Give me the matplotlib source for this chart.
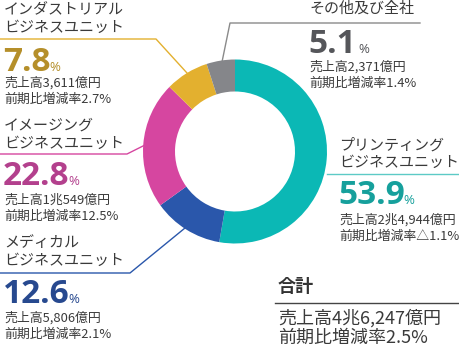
import matplotlib.pyplot as plt

# segment data (share of sales, FY)
segments = ['プリンティング', 'メディカル', 'イメージング', 'インダストリアル', 'その他及び全社']
shares = [53.9, 12.6, 22.8, 7.8, 5.1]
sales = ['2兆4,944', '5,806', '1兆549', '3,611', '2,371']
growth = ['△1.1', '2.1', '12.5', '2.7', '1.4']
ring_colors = ['#0bb8b5', '#2a57ab', '#d646a0', '#e3b02f', '#85868a']
text_colors = ['#16a09c', '#27498f', '#b3408d', '#b58f2a', '#55565a']
total_sales = '4兆6,247'
total_growth = '2.5'

W, H = 460, 349
jp = ['Noto Sans CJK JP', 'DejaVu Sans']
dark = '#3a3a3a'

fig = plt.figure(figsize=(W / 100, H / 100), dpi=100)
ax = fig.add_axes([0, 0, 1, 1])
ax.set_xlim(0, W)
ax.set_ylim(H, 0)
ax.axis('off')

# donut in its own axes
cx, cy, R = 235, 151.5, 92
axp = fig.add_axes([(cx - R) / W, 1 - (cy + R) / H, 2 * R / W, 2 * R / H])
axp.pie(shares, colors=ring_colors, startangle=90, counterclock=False,
        wedgeprops=dict(width=32 / R, linewidth=0))
axp.set_xlim(-1, 1)
axp.set_ylim(-1, 1)
axp.set_aspect('equal')
axp.axis('off')

renderer = fig.canvas.get_renderer()


def label(i, x, ty, by, sy, pct_gap=-1):
    col = text_colors[i]
    name = segments[i]
    lines = [name] if i == 4 else [name, 'ビジネスユニット']
    for k, t in enumerate(lines):
        ax.text(x, ty + k * 18, t, fontsize=10.8, family=jp, color=dark,
                va='center', ha='left')
    num = ax.text(x - 1, by, f'{shares[i]}', fontsize=24, fontweight='bold',
                  family='Open Sans', color=col, va='baseline', ha='left')
    w = num.get_window_extent(renderer).width
    ax.text(x - 1 + w + pct_gap, by, '%', fontsize=9.5, family='Open Sans',
            color=col, va='baseline', ha='left')
    ax.text(x, sy, f'売上高{sales[i]}億円', fontsize=9.3, family=jp,
            color=dark, va='center', ha='left')
    ax.text(x, sy + 16.5, f'前期比増減率{growth[i]}%', fontsize=9.3, family=jp,
            color=dark, va='center', ha='left')


# leader lines
ax.plot([0, 156, 187], [39, 39, 73], color=ring_colors[3], lw=1)
ax.plot([420, 230, 222], [23, 23, 62], color='#8a8a8a', lw=1)
ax.plot([0, 127, 145], [154, 154, 145], color=ring_colors[2], lw=1)
ax.plot([0, 130, 185], [273, 273, 228], color=ring_colors[1], lw=1)
ax.plot([327, W], [174, 174], color='#5ccac6', lw=1)
ax.plot([275, W], [303, 303], color='#444444', lw=1)

label(3, 4, 10, 71, 83)
label(2, 4, 126, 185, 200)
label(1, 4, 243, 303, 318)
label(4, 309, 8, 53, 67, pct_gap=3)
label(0, 339, 145, 204, 220)

# total
ax.text(278, 287, '合計', fontsize=13, fontweight='bold', family=jp,
        color='#333333', va='center', ha='left')
ax.text(278, 318, f'売上高{total_sales}億円', fontsize=13, family=jp,
        color=dark, va='center', ha='left')
ax.text(278, 338, f'前期比増減率{total_growth}%', fontsize=13, family=jp,
        color=dark, va='center', ha='left')

fig.savefig('out.png', dpi=100)
